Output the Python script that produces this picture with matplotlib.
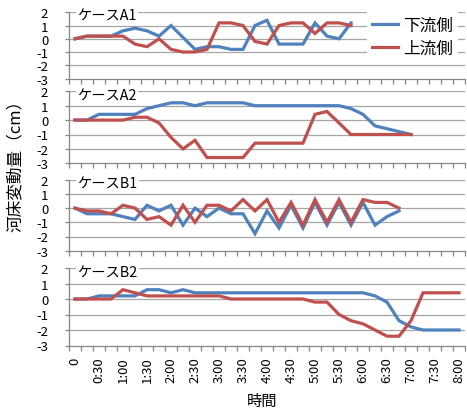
import matplotlib
matplotlib.use("Agg")
import matplotlib.pyplot as plt
from matplotlib.ticker import FixedLocator

plt.rcParams['font.family'] = ['Noto Sans CJK JP', 'DejaVu Sans']

# category axis: 15-minute steps from 0 to 8:00
tick_labels = ["0", "0:30", "1:00", "1:30", "2:00", "2:30", "3:00", "3:30", "4:00",
               "4:30", "5:00", "5:30", "6:00", "6:30", "7:00", "7:30", "8:00"]
n_categories = 33

series_names = ["下流側", "上流側"]
panel_titles = ["ケースA1", "ケースA2", "ケースB1", "ケースB2"]

a1_down = [0, 0.2, 0.2, 0.2, 0.6, 0.8, 0.6, 0.2, 1.0, 0.1, -0.8, -0.6, -0.6, -0.8,
           -0.8, 1.0, 1.4, -0.4, -0.4, -0.4, 1.2, 0.2, 0, 1.2]
a1_up = [0, 0.2, 0.2, 0.2, 0.2, -0.4, -0.6, 0, -0.8, -1.0, -1.0, -0.8, 1.2, 1.2,
         1.0, -0.2, -0.4, 1.0, 1.2, 1.2, 0.4, 1.2, 1.2, 1.0]

a2_down = [0, 0, 0.4, 0.4, 0.4, 0.4, 0.8, 1.0, 1.2, 1.2, 1.0, 1.2, 1.2, 1.2, 1.2,
           1.0, 1.0, 1.0, 1.0, 1.0, 1.0, 1.0, 1.0, 0.8, 0.4, -0.4, -0.6, -0.8, -1.0]
a2_up = [0, 0, 0, 0, 0, 0.2, 0.2, -0.2, -1.2, -2.0, -1.4, -2.6, -2.6, -2.6, -2.6,
         -1.6, -1.6, -1.6, -1.6, -1.6, 0.4, 0.6, -0.2, -1.0, -1.0, -1.0, -1.0, -1.0, -1.0]

b1_down = [0, -0.4, -0.4, -0.4, -0.6, -0.8, 0.2, -0.2, 0.2, -1.2, 0, -0.6, 0, -0.4,
           -0.4, -1.8, -0.2, -1.4, 0.2, -1.4, 0.4, -1.2, 0.4, -1.2, 0.4, -1.2, -0.6, -0.2]
b1_up = [0, -0.2, -0.2, -0.4, 0.2, 0, -0.8, -0.6, -1.2, 0.2, -1.0, 0.2, 0.2, -0.2,
         0.6, -0.2, 0.6, -1.0, 0.4, -1.2, 0.6, -1.0, 0.6, -1.0, 0.6, 0.4, 0.4, 0]

b2_down = [0, 0, 0.2, 0.2, 0.2, 0.2, 0.6, 0.6, 0.4, 0.6, 0.4, 0.4, 0.4, 0.4, 0.4,
           0.4, 0.4, 0.4, 0.4, 0.4, 0.4, 0.4, 0.4, 0.4, 0.4, 0.2, -0.2, -1.4, -1.8,
           -2.0, -2.0, -2.0, -2.0]
b2_up = [0, 0, 0, 0, 0.6, 0.4, 0.2, 0.2, 0.2, 0.2, 0.2, 0.2, 0.2, 0, 0, 0, 0, 0, 0,
         0, -0.2, -0.2, -1.0, -1.4, -1.6, -2.0, -2.4, -2.4, -1.4, 0.4, 0.4, 0.4, 0.4]

panels = [(a1_down, a1_up), (a2_down, a2_up), (b1_down, b1_up), (b2_down, b2_up)]

colors = ["#4F81BD", "#C0504D"]
grid_c = "#A6A6A6"
axis_c = "#868686"

W, H = 467, 414
fig = plt.figure(figsize=(W / 100, H / 100), dpi=100)

# (top_px, bottom_px) of each plot area
boxes = [(13.3, 79.5), (92.3, 164.3), (180.7, 251.7), (269.0, 346.5)]
left_px, right_px = 69, 465

axes = []
for k, ((top, bot), (down, up)) in enumerate(zip(boxes, panels)):
    ax = fig.add_axes([left_px / W, (H - bot) / H, (right_px - left_px) / W, (bot - top) / H])
    axes.append(ax)
    ax.set_xlim(-0.5, n_categories - 0.5)
    ax.set_ylim(-3, 2)
    for v in [2, 1, 0, -1, -2]:
        ax.axhline(v, color=grid_c, lw=0.9, zorder=1)
    l1, = ax.plot(range(len(down)), down, color=colors[0], lw=2.3, zorder=3,
                  solid_joinstyle='miter', label=series_names[0])
    l2, = ax.plot(range(len(up)), up, color=colors[1], lw=2.3, zorder=3,
                  solid_joinstyle='miter', label=series_names[1])
    for s in ['top', 'right']:
        ax.spines[s].set_visible(False)
    for s in ['left', 'bottom']:
        ax.spines[s].set_color(axis_c)
        ax.spines[s].set_linewidth(0.9)
    ax.set_yticks([-3, -2, -1, 0, 1, 2])
    ax.set_yticklabels(["-3", "-2", "-1", "0", "1", "2"])
    ax.tick_params(axis='y', length=3, width=0.9, color=axis_c, pad=12,
                   labelsize=9.5)
    # x ticks: marks at category boundaries, labels every two categories
    ax.xaxis.set_minor_locator(FixedLocator([i - 0.5 for i in range(n_categories + 1)]))
    ax.set_xticks(list(range(0, n_categories, 2)))
    ax.tick_params(axis='x', which='minor', length=3.5, width=0.9, color=axis_c)
    ax.tick_params(axis='x', which='major', length=0, pad=8, labelsize=9.5)
    if k == 3:
        ax.set_xticklabels(tick_labels, rotation=90, va='top', ha='center')
    else:
        ax.set_xticklabels([])
    ax.text(0.2, 1.72, panel_titles[k], fontsize=10.3, ha='left', va='center',
            zorder=5, bbox=dict(facecolor='white', edgecolor='none', pad=1.0))
    ax.set_facecolor('none')
    if k == 0:
        leg = ax.legend(handles=[l1, l2], loc='upper left',
                        bbox_to_anchor=(367 / W, 1 - 13 / H),
                        bbox_transform=fig.transFigure, fontsize=12,
                        frameon=True, facecolor='white', edgecolor='none',
                        framealpha=1, fancybox=False, borderaxespad=0,
                        handlelength=1.55, handletextpad=0.3, labelspacing=0.35,
                        borderpad=0.3)
        leg.set_zorder(10)

fig.text(15 / W, 1 - 162 / H, "河床変動量（cm）", rotation=90, ha='center', va='center',
         fontsize=12)
fig.text(262 / W, 1 - 401 / H, "時間", ha='center', va='center', fontsize=11)

fig.savefig("out.png", dpi=100)
